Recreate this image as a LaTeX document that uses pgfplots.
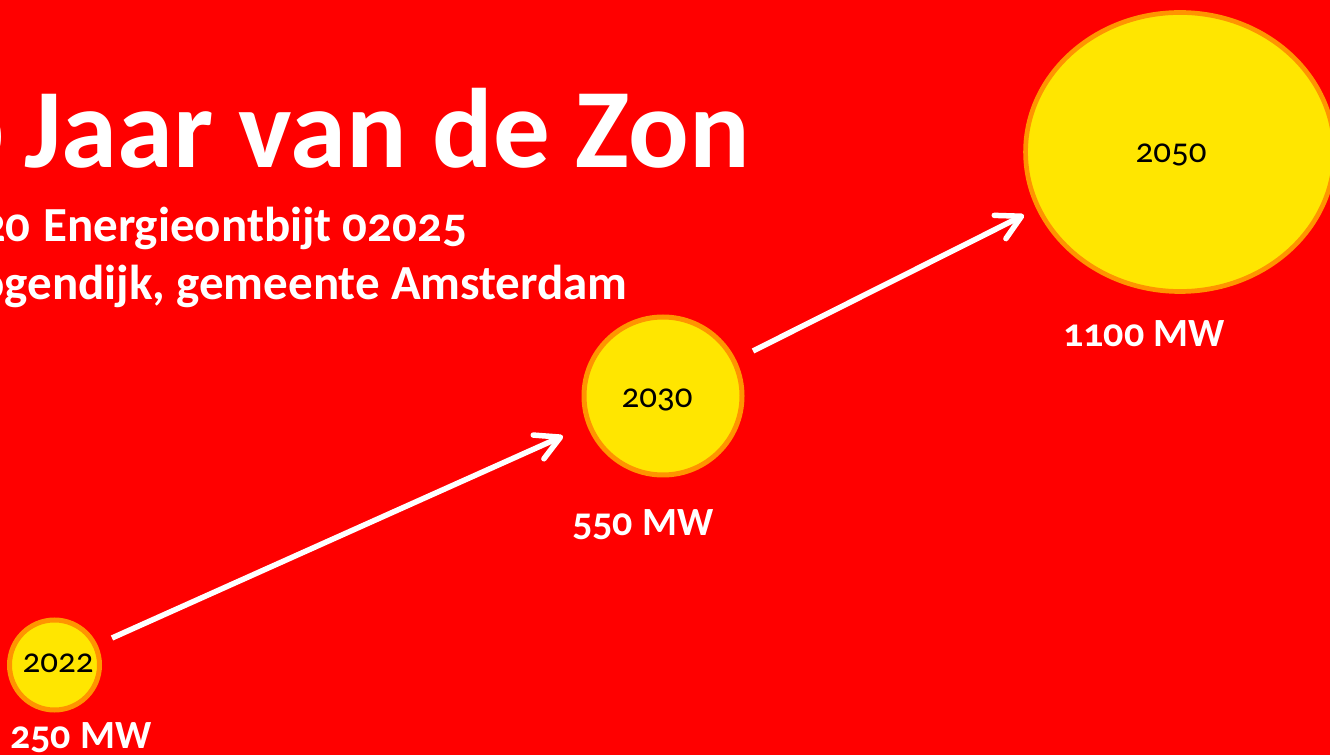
\documentclass[border=0pt]{standalone}
\usepackage{pgfplots}
\pgfplotsset{compat=1.18}
\usepackage{fontspec}
\setmainfont{Carlito}[Numbers=OldStyle]
\usetikzlibrary{arrows.meta}
\definecolor{bg}{HTML}{FF0000}
\definecolor{sun}{HTML}{FFE600}
\definecolor{rim}{HTML}{FF9400}
\begin{document}
\begin{tikzpicture}
\useasboundingbox (0,0) rectangle (1330pt,755pt);
\clip (0,0) rectangle (1330pt,755pt);
\fill[bg] (0,0) rectangle (1330pt,755pt);
\begin{axis}[
  at={(0,0)}, anchor=origin,
  scale only axis, width=1330pt, height=755pt,
  xmin=0, xmax=1330, ymin=0, ymax=755,
  hide axis, clip=false,
]
% suns (center x, center y in px from bottom)
\addplot[only marks, mark=*, mark size=45pt, mark options={draw=rim, fill=sun, line width=5pt}] coordinates {(54.5,90)};
\addplot[only marks, mark=*, mark size=79pt, mark options={draw=rim, fill=sun, line width=5pt}] coordinates {(663,359)};
\addplot[only marks, mark=*, mark size=139.5pt, mark options={draw=rim, fill=sun, line width=4.7pt, xscale=1.107}] coordinates {(1180,603)};
% arrows
\addplot[white, line width=5.5pt, -{Straight Barb[length=24pt,width=26pt,round]}] coordinates {(112,117) (563,319)};
\addplot[white, line width=5.5pt, -{Straight Barb[length=24pt,width=26pt,round]}] coordinates {(753,404) (1024,540)};
% titles
\node[anchor=base west, inner sep=0pt, text=white, font=\fontsize{113}{113}\selectfont\bfseries] at (axis cs:24,587) {Jaar van de Zon};
\node[anchor=base east, inner sep=0pt, text=white, font=\fontsize{113}{113}\selectfont\bfseries] at (axis cs:4,587) {2020};
\node[anchor=base west, inner sep=0pt, text=white, font=\fontsize{49}{49}\selectfont\bfseries] at (axis cs:43,513) {Energieontbijt 02025};
\node[anchor=base east, inner sep=0pt, text=white, font=\fontsize{49}{49}\selectfont\bfseries] at (axis cs:31,513) {020};
\node[anchor=base east, inner sep=0pt, text=white, font=\fontsize{49}{49}\selectfont\bfseries] at (axis cs:628,455) {Hoogendijk, gemeente Amsterdam};
% values
\node[anchor=base west, inner sep=0pt, text=white, font=\fontsize{40}{40}\selectfont\bfseries] at (axis cs:10,7) {250 MW};
\node[anchor=base west, inner sep=0pt, text=white, font=\fontsize{40}{40}\selectfont\bfseries] at (axis cs:572,219) {550 MW};
\node[anchor=base west, inner sep=0pt, text=white, font=\fontsize{40}{40}\selectfont\bfseries] at (axis cs:1063,408) {1100 MW};
% anchor points for year labels
\coordinate (y1) at (axis cs:58,83);
\coordinate (y2) at (axis cs:657,347);
\coordinate (y3) at (axis cs:1171,592);
\end{axis}
\node[anchor=base, inner sep=0pt, text=black, font=\fontsize{35}{35}\selectfont] at (y1) {2022};
\node[anchor=base, inner sep=0pt, text=black, font=\fontsize{35}{35}\selectfont] at (y2) {2030};
\node[anchor=base, inner sep=0pt, text=black, font=\fontsize{35}{35}\selectfont] at (y3) {2050};
\end{tikzpicture}
\end{document}
